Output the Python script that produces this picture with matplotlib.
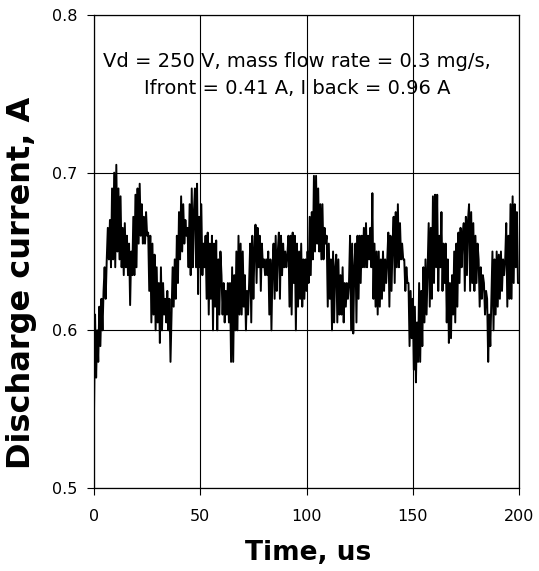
import numpy as np
import matplotlib
matplotlib.use("Agg")
import matplotlib.pyplot as plt

# Discharge current samples, 0.5 us apart (t = 0 ... 200 us)
dt_us = 0.5
current_blocks = [
    # 0 - 9.5 us
    [0.548, 0.61, 0.57, 0.60, 0.58, 0.615, 0.59, 0.62, 0.60, 0.625,
     0.64, 0.62, 0.645, 0.665, 0.645, 0.67, 0.64, 0.69, 0.645, 0.70],
    # 10 - 19.5
    [0.64, 0.705, 0.65, 0.69, 0.645, 0.685, 0.64, 0.665, 0.635, 0.668,
     0.64, 0.66, 0.635, 0.655, 0.616, 0.65, 0.635, 0.672, 0.635, 0.686],
    # 20 - 29.5
    [0.64, 0.69, 0.655, 0.693, 0.66, 0.68, 0.655, 0.672, 0.655, 0.675,
     0.66, 0.662, 0.625, 0.66, 0.605, 0.655, 0.61, 0.648, 0.60, 0.64],
    # 30 - 39.5
    [0.605, 0.63, 0.592, 0.64, 0.60, 0.63, 0.61, 0.62, 0.605, 0.625,
     0.60, 0.62, 0.58, 0.61, 0.64, 0.615, 0.645, 0.62, 0.66, 0.63],
    # 40 - 49.5
    [0.675, 0.645, 0.685, 0.65, 0.68, 0.655, 0.67, 0.66, 0.665, 0.64,
     0.68, 0.635, 0.69, 0.64, 0.675, 0.69, 0.64, 0.693, 0.623, 0.672],
    # 50 - 59.5
    [0.64, 0.68, 0.635, 0.655, 0.64, 0.66, 0.62, 0.662, 0.61, 0.655,
     0.62, 0.66, 0.60, 0.655, 0.615, 0.657, 0.60, 0.645, 0.61, 0.65],
    # 60 - 69.5
    [0.635, 0.61, 0.63, 0.605, 0.625, 0.61, 0.63, 0.605, 0.63, 0.58,
     0.64, 0.58, 0.635, 0.60, 0.65, 0.60, 0.66, 0.61, 0.655, 0.61],
    # 70 - 79.5
    [0.65, 0.615, 0.635, 0.60, 0.625, 0.61, 0.63, 0.655, 0.605, 0.66,
     0.62, 0.65, 0.667, 0.63, 0.665, 0.64, 0.66, 0.625, 0.655, 0.64],
    # 80 - 89.5
    [0.645, 0.635, 0.645, 0.635, 0.65, 0.61, 0.645, 0.60, 0.64, 0.655,
     0.62, 0.66, 0.625, 0.65, 0.662, 0.62, 0.66, 0.635, 0.655, 0.64],
    # 90 - 99.5
    [0.65, 0.64, 0.648, 0.66, 0.615, 0.66, 0.61, 0.662, 0.63, 0.66,
     0.60, 0.655, 0.615, 0.65, 0.62, 0.655, 0.615, 0.645, 0.62, 0.645],
    # 100 - 109.5
    [0.625, 0.65, 0.63, 0.672, 0.635, 0.675, 0.645, 0.698, 0.65, 0.698,
     0.655, 0.69, 0.65, 0.68, 0.645, 0.68, 0.645, 0.665, 0.655, 0.66],
    # 110 - 119.5
    [0.615, 0.655, 0.62, 0.645, 0.60, 0.65, 0.605, 0.64, 0.648, 0.605,
     0.645, 0.61, 0.635, 0.61, 0.64, 0.605, 0.63, 0.615, 0.63, 0.62],
    # 120 - 129.5
    [0.63, 0.66, 0.60, 0.655, 0.598, 0.64, 0.655, 0.605, 0.66, 0.62,
     0.66, 0.63, 0.66, 0.64, 0.665, 0.64, 0.668, 0.64, 0.66, 0.645],
    # 130 - 139.5
    [0.665, 0.64, 0.687, 0.62, 0.655, 0.615, 0.65, 0.61, 0.65, 0.615,
     0.645, 0.62, 0.65, 0.625, 0.645, 0.63, 0.645, 0.662, 0.615, 0.66],
    # 140 - 149.5
    [0.625, 0.655, 0.672, 0.63, 0.675, 0.64, 0.68, 0.64, 0.668, 0.645,
     0.655, 0.645, 0.645, 0.625, 0.64, 0.63, 0.63, 0.59, 0.625, 0.595],
    # 150 - 159.5
    [0.62, 0.575, 0.615, 0.567, 0.605, 0.58, 0.63, 0.58, 0.625, 0.59,
     0.64, 0.605, 0.645, 0.61, 0.64, 0.668, 0.615, 0.665, 0.62, 0.685],
    # 160 - 169.5
    [0.63, 0.686, 0.64, 0.686, 0.625, 0.66, 0.64, 0.675, 0.625, 0.655,
     0.63, 0.655, 0.605, 0.645, 0.592, 0.63, 0.595, 0.635, 0.61, 0.65],
    # 170 - 179.5
    [0.605, 0.655, 0.615, 0.662, 0.63, 0.665, 0.64, 0.66, 0.668, 0.625,
     0.672, 0.635, 0.67, 0.68, 0.625, 0.675, 0.63, 0.668, 0.625, 0.66],
    # 180 - 189.5
    [0.63, 0.655, 0.645, 0.615, 0.64, 0.62, 0.635, 0.63, 0.61, 0.625,
     0.62, 0.58, 0.61, 0.59, 0.62, 0.65, 0.60, 0.645, 0.61, 0.65],
    # 190 - 199.5
    [0.615, 0.648, 0.62, 0.65, 0.625, 0.645, 0.635, 0.645, 0.668, 0.615,
     0.66, 0.62, 0.68, 0.62, 0.685, 0.63, 0.68, 0.64, 0.675, 0.63],
    # 200
    [0.63],
]
current_A = [v for block in current_blocks for v in block]
time_us = np.arange(len(current_A)) * dt_us

x_ticks = [0, 50, 100, 150, 200]
y_ticks = [0.5, 0.6, 0.7, 0.8]
y_tick_labels = ["0.5", "0.6", "0.7", "0.8"]
annotation_lines = ["Vd = 250 V, mass flow rate = 0.3 mg/s,",
                    "Ifront = 0.41 A, I back = 0.96 A"]

W, H = 539, 571
fig = plt.figure(figsize=(W / 100, H / 100), dpi=100)
ax = fig.add_axes([94 / W, 1 - 488 / H, (519 - 94) / W, (488 - 15) / H])

ax.plot(time_us, current_A, color="black", lw=1.4, zorder=3)

ax.set_xlim(0, 200)
ax.set_ylim(0.5, 0.8)
ax.set_xticks(x_ticks)
ax.set_xticklabels([str(t) for t in x_ticks])
ax.set_yticks(y_ticks)
ax.set_yticklabels(y_tick_labels)
ax.tick_params(axis="x", direction="out", length=5, width=0.8, pad=10,
               labelsize=11.5, colors="black")
ax.tick_params(axis="y", direction="out", length=5, width=0.8, pad=7,
               labelsize=11.5, colors="black")
ax.grid(True, color="black", lw=0.8, zorder=1)
ax.set_axisbelow(True)
for s in ax.spines.values():
    s.set_color("black")
    s.set_linewidth(0.9)

ax.text(95.5, 0.7672, annotation_lines[0], ha="center", va="baseline",
        fontsize=14, color="black", zorder=4)
ax.text(95.5, 0.7499, annotation_lines[1], ha="center", va="baseline",
        fontsize=14, color="black", zorder=4)

fig.text(308.5 / W, 1 - 560 / H, "Time, us", ha="center", va="baseline",
         fontsize=19, fontweight="bold")
fig.text(21.5 / W, 1 - 283 / H, "Discharge current, A", ha="center",
         va="center", rotation=90, fontsize=23, fontweight="bold")

fig.savefig("out.png", dpi=100)
